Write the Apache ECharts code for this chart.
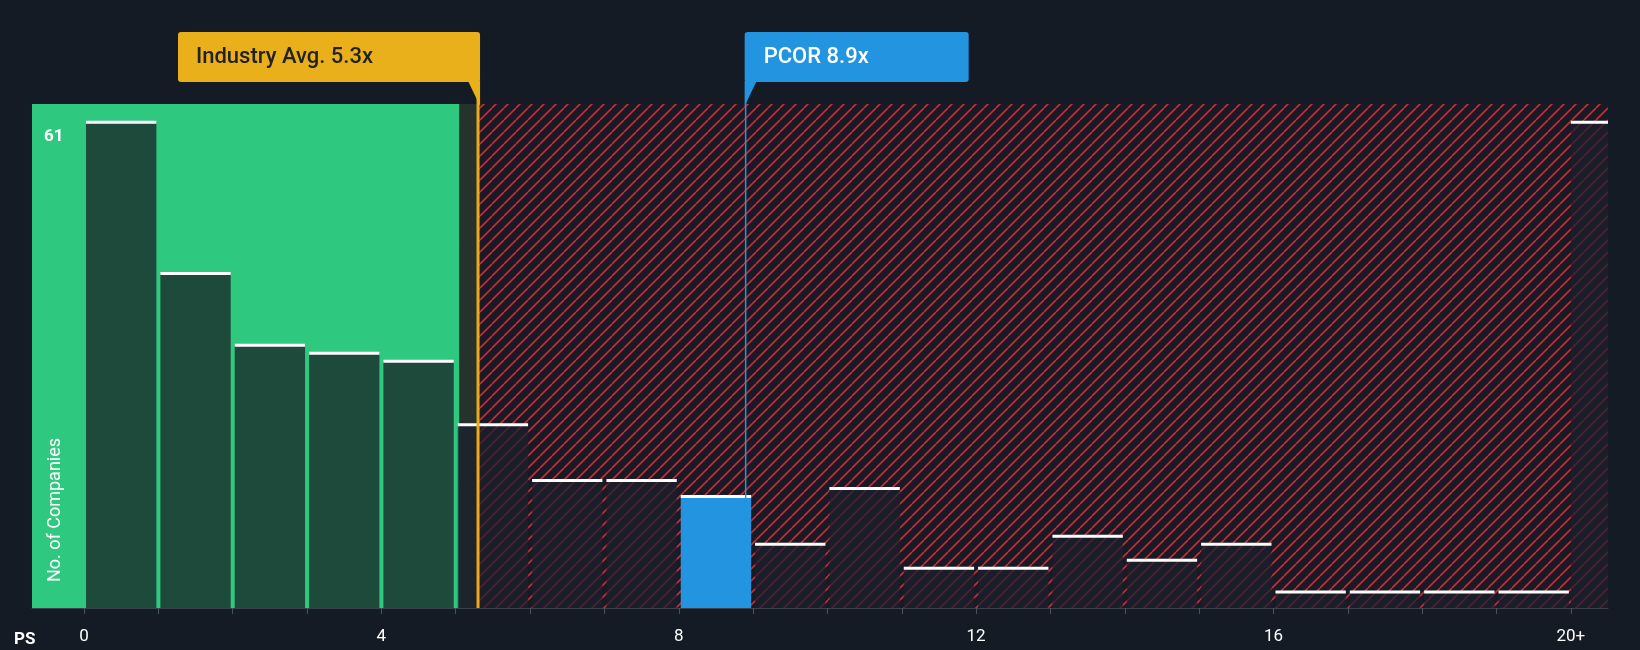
<!DOCTYPE html>
<html>
<head>
<meta charset="utf-8">
<script src="https://cdn.jsdelivr.net/npm/echarts@6/dist/echarts.min.js"></script>
<style>
  html, body { margin: 0; padding: 0; background: #151b24; }
  #chart { width: 1640px; height: 650px; }
</style>
</head>
<body>
<div id="chart"></div>
<script>
// histogram bins: start of each PS bin, company counts
var binStarts = [0, 1, 2, 3, 4, 5, 6, 7, 8, 9, 10, 11, 12, 13, 14, 15, 16, 17, 18, 19, 20];
var counts = [61, 42, 33, 32, 31, 23, 16, 16, 14, 8, 15, 5, 5, 9, 6, 8, 2, 2, 2, 2, 61];
var tickValues = [0, 4, 8, 12, 16, 20];
var tickLabels = ['0', '4', '8', '12', '16', '20+'];
var binEdges = [0, 1, 2, 3, 4, 5, 6, 7, 8, 9, 10, 11, 12, 13, 14, 15, 16, 17, 18, 19, 20];
var industryAvg = 5.3;
var companyPs = 8.9;
var companyName = 'PCOR';

var X_MIN = -0.7, X_MAX = 20.5, Y_MAX = 63.3;
var GREEN_END = 5.05;

function hatch() {
  var c = document.createElement('canvas');
  c.width = 12; c.height = 12;
  var g = c.getContext('2d');
  g.fillStyle = '#181b25';
  g.fillRect(0, 0, 12, 12);
  g.strokeStyle = '#c1313b';
  g.lineWidth = 1.6;
  for (var k = -1; k <= 1; k++) {
    g.beginPath();
    g.moveTo(k * 12, 12);
    g.lineTo(k * 12 + 12, 0);
    g.stroke();
  }
  return c;
}

var chart = echarts.init(document.getElementById('chart'));
var data = binStarts.map(function (s, i) { return [s, counts[i]]; });

chart.setOption({
  backgroundColor: '#151b24',
  animation: false,
  grid: { left: 32, right: 32, top: 104, bottom: 42 },
  xAxis: {
    type: 'value', min: X_MIN, max: X_MAX,
    axisLine: { show: true, lineStyle: { color: '#3a4250' } },
    axisTick: { show: true, customValues: binEdges, length: 6, lineStyle: { color: '#4a5260' } },
    splitLine: { show: false },
    axisLabel: {
      customValues: tickValues,
      color: '#ffffff', fontSize: 17, fontFamily: 'Roboto', margin: 20,
      formatter: function (v) { return tickLabels[tickValues.indexOf(v)]; }
    }
  },
  yAxis: {
    type: 'value', min: 0, max: Y_MAX, interval: 15.25,
    axisLine: { show: false }, axisTick: { show: false }, axisLabel: { show: false },
    splitLine: { lineStyle: { color: 'rgba(255,255,255,0.12)' } }
  },
  series: [
    {
      type: 'custom',
      silent: true,
      data: data,
      markArea: {
        silent: true,
        data: [
          [{ xAxis: X_MIN, yAxis: 0, itemStyle: { color: '#2ec97e' } }, { xAxis: GREEN_END, yAxis: Y_MAX }],
          [{ xAxis: GREEN_END, yAxis: 0, itemStyle: { color: '#26332c' } }, { xAxis: industryAvg, yAxis: Y_MAX }],
          [{ xAxis: industryAvg, yAxis: 0, itemStyle: { color: { image: hatch(), repeat: 'repeat' } } }, { xAxis: X_MAX, yAxis: Y_MAX }]
        ]
      },
      renderItem: function (params, api) {
        var s = api.value(0), v = api.value(1);
        var e = Math.min(s + 1, X_MAX);
        var p0 = api.coord([s, v]), p1 = api.coord([e, 0]);
        var gap = s >= 20 ? 0 : 2;
        var x0 = p0[0] + gap, w = p1[0] - p0[0] - gap * 2;
        var fill;
        if (s <= companyPs && companyPs < s + 1) fill = '#2394e0';
        else if (s + 1 <= GREEN_END + 0.01) fill = '#1e4a3c';
        else fill = 'rgba(28,30,44,0.72)';
        return {
          type: 'group',
          children: [
            { type: 'rect', shape: { x: x0, y: p0[1], width: w, height: p1[1] - p0[1] }, style: { fill: fill } },
            { type: 'rect', shape: { x: x0, y: p0[1] - 1.5, width: w, height: 3 }, style: { fill: '#ffffff' } }
          ]
        };
      }
    }
  ]
});

function px(x, y) { return chart.convertToPixel({ gridIndex: 0 }, [x, y]); }
var base = px(0, 0);
var avgX = px(industryAvg, 0)[0], pcX = px(companyPs, 0)[0];

chart.setOption({
  graphic: [
    { type: 'line', shape: { x1: avgX, y1: 58, x2: avgX, y2: base[1] }, style: { stroke: '#f0a818', lineWidth: 3 }, z: 60 },
    { type: 'line', shape: { x1: pcX, y1: 80, x2: pcX, y2: base[1] }, style: { stroke: '#2394e0', lineWidth: 1.5 }, z: 60 },
    { type: 'rect', shape: { x: 178, y: 32, width: avgX - 178 + 2, height: 50, r: 3 }, style: { fill: '#e9b01c' }, z: 60 },
    { type: 'polygon', shape: { points: [[avgX - 10, 81], [avgX + 2, 81], [avgX + 2, 106]] }, style: { fill: '#e9b01c' }, z: 60 },
    { type: 'text', x: 196, y: 57, style: { text: 'Industry Avg. 5.3x', fill: '#222222', font: '500 22px Roboto', verticalAlign: 'middle' }, z: 61 },
    { type: 'rect', shape: { x: pcX - 1, y: 32, width: 224, height: 50, r: 3 }, style: { fill: '#2394e0' }, z: 60 },
    { type: 'polygon', shape: { points: [[pcX - 1, 81], [pcX + 11, 81], [pcX - 1, 106]] }, style: { fill: '#2394e0' }, z: 60 },
    { type: 'text', x: pcX + 18, y: 57, style: { text: companyName + ' 8.9x', fill: '#ffffff', font: '500 22px Roboto', verticalAlign: 'middle' }, z: 61 },
    { type: 'text', x: 44, y: 137, style: { text: '61', fill: '#ffffff', font: 'bold 17px Roboto', verticalAlign: 'middle' }, z: 61 },
    { type: 'text', x: 55, y: 510, rotation: Math.PI / 2, style: { text: 'No. of Companies', fill: '#ffffff', font: '18px Roboto', align: 'center', verticalAlign: 'middle' }, z: 61 },
    { type: 'text', x: 14, y: 640, style: { text: 'PS', fill: '#ffffff', font: 'bold 17px Roboto', verticalAlign: 'middle' }, z: 61 }
  ]
});
</script>
</body>
</html>
